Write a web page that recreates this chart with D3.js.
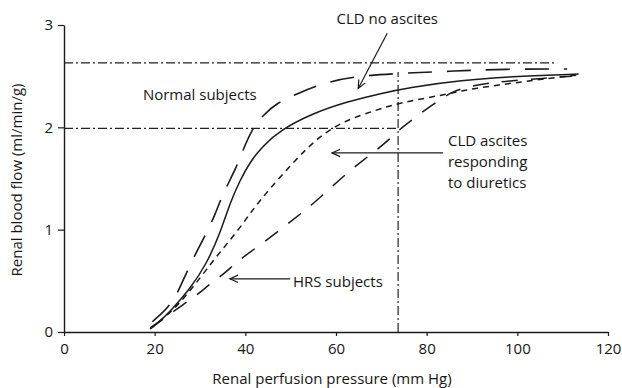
<!DOCTYPE html>
<html>
<head>
<meta charset="utf-8">
<script src="https://cdn.jsdelivr.net/npm/d3@7"></script>
<style>
  html, body { margin: 0; padding: 0; background: #fff; }
  svg { display: block; }
  text { font-family: "Open Sans", "Noto Sans", sans-serif; fill: #161616; }
</style>
</head>
<body>
<svg id="chart" width="622" height="388"></svg>
<script>
// ---- data (renal perfusion pressure mm Hg, renal blood flow ml/min/g) ----
const xTicks = [0, 20, 40, 60, 80, 100, 120];
const yTicks = [0, 1, 2, 3];
const xLabel = "Renal perfusion pressure (mm Hg)";
const yLabel = "Renal blood flow (ml/min/g)";

const normalSubjects = [[19.5,0.1],[24,0.28],[26,0.48],[28.5,0.72],[31,0.93],[33.3,1.14],[35,1.35],[38,1.6],[40,1.84],[42,2.02],[44,2.12],[47,2.24],[51.5,2.33],[57,2.43],[64,2.5],[75,2.53],[86,2.55],[97,2.57],[111,2.57]];
const cldNoAscites = [[19,0.04],[21,0.1],[23.4,0.2],[27.8,0.42],[31.5,0.67],[34.4,0.96],[36.6,1.26],[38.8,1.48],[41,1.66],[43.9,1.82],[47.6,1.97],[55,2.14],[62.4,2.25],[69.7,2.33],[76.3,2.39],[87.4,2.46],[100,2.5],[113.5,2.52]];
const cldAscites = [[19,0.03],[23,0.17],[26.5,0.33],[30.4,0.55],[34,0.76],[38.2,0.98],[41.7,1.2],[45,1.38],[51,1.68],[56,1.9],[61.5,2.06],[69,2.17],[74,2.24],[83,2.31],[90,2.38],[102,2.45],[109,2.49],[113,2.51]];
const hrsSubjects = [[19,0.03],[22,0.13],[26.3,0.27],[29.6,0.37],[32.2,0.47],[35.1,0.56],[38,0.68],[41,0.78],[44.8,0.9],[50,1.08],[55.5,1.27],[61.5,1.52],[66,1.68],[69,1.78],[72,1.89],[74,1.98],[77,2.08],[80.3,2.19],[83,2.27],[85.6,2.35],[90,2.41],[97,2.45],[106,2.48],[112,2.5]];

// reference (dash-dot) lines
const refFlowHigh = 2.63, refFlowHighEnd = 108.8;
const refFlowMid = 1.99;
const refPressure = 73.7, refPressureTop = 2.54;

// annotations: [text lines], anchor (data coords), arrow from -> to (data coords)
const annotations = [
  { lines: ["CLD no ascites"], x: 71.3, y: 3.01, anchor: "middle", from: [71.3, 2.92], to: [64.9, 2.38] },
  { lines: ["Normal subjects"], x: 17.4, y: 2.27, anchor: "start", from: null, to: null },
  { lines: ["CLD ascites", "responding", "to diuretics"], x: 84.7, y: 1.82, anchor: "start", from: [83.6, 1.75], to: [59.1, 1.75] },
  { lines: ["HRS subjects"], x: 50.5, y: 0.44, anchor: "start", from: [49.9, 0.52], to: [36.6, 0.52] }
];

// ---- chart ----
const W = 622, H = 388;
const margin = { left: 64, right: 14, top: 25, bottom: 56 };
const svg = d3.select("#chart");
const x = d3.scaleLinear().domain([0, 120]).range([margin.left, W - margin.right]);
const y = d3.scaleLinear().domain([0, 3]).range([H - margin.bottom, margin.top]);
const ink = "#1a1a1a";

// axes
const xAxis = svg.append("g").attr("transform", `translate(0,${y(0)})`)
  .call(d3.axisBottom(x).tickValues(xTicks).tickFormat(d3.format("d")).tickSize(4).tickPadding(7).tickSizeOuter(0));
const yAxis = svg.append("g").attr("transform", `translate(${x(0)},0)`)
  .call(d3.axisLeft(y).tickValues(yTicks).tickFormat(d3.format("d")).tickSize(6).tickPadding(5).tickSizeOuter(0));
[xAxis, yAxis].forEach(g => {
  g.selectAll("path.domain").attr("stroke", ink).attr("stroke-width", 1.4);
  g.selectAll(".tick line").attr("stroke", ink).attr("stroke-width", 1.2);
  g.selectAll(".tick text").attr("fill", "#161616").style("font-size", "15px")
    .style("font-family", "'Open Sans', sans-serif");
});

// axis titles
svg.append("text").attr("x", 332).attr("y", 384).attr("text-anchor", "middle")
  .style("font-size", "15px").text(xLabel);
svg.append("text").attr("transform", `translate(22,180) rotate(-90)`)
  .attr("text-anchor", "middle").style("font-size", "15px").text(yLabel);

// reference lines
const dashDot = "9,3,2,3";
const refG = svg.append("g").attr("stroke", "#222").attr("stroke-width", 1.2)
  .attr("stroke-dasharray", dashDot).attr("fill", "none");
refG.append("line").attr("x1", x(0)).attr("x2", x(refFlowHighEnd)).attr("y1", y(refFlowHigh)).attr("y2", y(refFlowHigh));
refG.append("line").attr("x1", x(0)).attr("x2", x(refPressure)).attr("y1", y(refFlowMid)).attr("y2", y(refFlowMid));
refG.append("line").attr("x1", x(refPressure)).attr("x2", x(refPressure)).attr("y1", y(0)).attr("y2", y(refPressureTop));

// curves
const line = d3.line().x(d => x(d[0])).y(d => y(d[1])).curve(d3.curveBasis);
const series = [
  { data: normalSubjects, dash: "24,15", width: 1.6 },
  { data: cldNoAscites, dash: null, width: 1.5 },
  { data: cldAscites, dash: "6,5", width: 1.5 },
  { data: hrsSubjects, dash: "16,13", width: 1.5 }
];
series.forEach(s => {
  svg.append("path").datum(s.data).attr("d", line)
    .attr("fill", "none").attr("stroke", ink).attr("stroke-width", s.width)
    .attr("stroke-dasharray", s.dash);
});

// annotations
annotations.forEach(a => {
  const t = svg.append("text").attr("x", x(a.x)).attr("y", y(a.y))
    .attr("text-anchor", a.anchor).style("font-size", "15px");
  a.lines.forEach((l, i) => {
    t.append("tspan").attr("x", x(a.x)).attr("dy", i === 0 ? 0 : 21).text(l);
  });
  if (a.from) {
    const x1 = x(a.from[0]), y1 = y(a.from[1]), x2 = x(a.to[0]), y2 = y(a.to[1]);
    svg.append("line").attr("x1", x1).attr("y1", y1).attr("x2", x2).attr("y2", y2)
      .attr("stroke", ink).attr("stroke-width", 1.2);
    const ang = Math.atan2(y2 - y1, x2 - x1);
    const L = 9, spread = 0.42;
    const p = d3.path();
    p.moveTo(x2 - L * Math.cos(ang - spread), y2 - L * Math.sin(ang - spread));
    p.lineTo(x2, y2);
    p.lineTo(x2 - L * Math.cos(ang + spread), y2 - L * Math.sin(ang + spread));
    svg.append("path").attr("d", p.toString()).attr("fill", "none")
      .attr("stroke", ink).attr("stroke-width", 1.2);
  }
});
</script>
</body>
</html>
